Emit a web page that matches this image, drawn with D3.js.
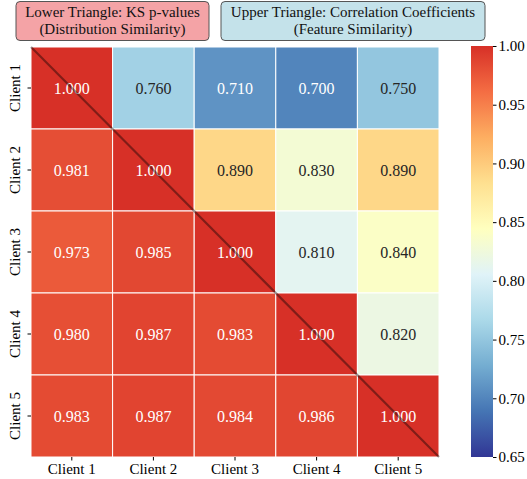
<!DOCTYPE html>
<html>
<head>
<meta charset="utf-8">
<script src="https://cdn.jsdelivr.net/npm/d3@7"></script>
<style>
  html, body { margin: 0; padding: 0; background: #fff; }
  svg { display: block; }
  svg text { font-family: "Liberation Serif", "Times New Roman", serif !important; }
</style>
</head>
<body>
<svg id="chart" width="527" height="479"></svg>
<script>
// Client labels
const clients = ["Client 1", "Client 2", "Client 3", "Client 4", "Client 5"];

// Matrix rows: lower triangle = KS p-values, upper triangle = correlation coefficients
const row1 = [1.000, 0.760, 0.710, 0.700, 0.750];
const row2 = [0.981, 1.000, 0.890, 0.830, 0.890];
const row3 = [0.973, 0.985, 1.000, 0.810, 0.840];
const row4 = [0.980, 0.987, 0.983, 1.000, 0.820];
const row5 = [0.983, 0.987, 0.984, 0.986, 1.000];
const matrix = [row1, row2, row3, row4, row5];

const colorTicks = [0.65, 0.70, 0.75, 0.80, 0.85, 0.90, 0.95, 1.00];
const vmin = 0.65, vmax = 1.0;

// Blue -> yellow -> red palette
const palette = ["#313695", "#4575b4", "#74add1", "#abd9e9", "#e0f3f8",
                 "#ffffbf", "#fee090", "#fdae61", "#f46d43", "#d73027"];
const paletteScale = d3.scaleLinear()
  .domain(palette.map((_, i) => i / (palette.length - 1)))
  .range(palette)
  .interpolate(d3.interpolateRgb)
  .clamp(true);
const color = v => paletteScale((v - vmin) / (vmax - vmin));

// Pick annotation colour from the cell's luminance
function textColor(fill) {
  const c = d3.rgb(fill);
  const lin = u => { u /= 255; return u <= 0.03928 ? u / 12.92 : Math.pow((u + 0.055) / 1.055, 2.4); };
  const L = 0.2126 * lin(c.r) + 0.7152 * lin(c.g) + 0.0722 * lin(c.b);
  return L > 0.408 ? "#262626" : "#ffffff";
}

const svg = d3.select("#chart");

const hm = { left: 31, top: 47, right: 439, bottom: 457 };
const x = d3.scaleBand().domain(clients).range([hm.left, hm.right]);
const y = d3.scaleBand().domain(clients).range([hm.top, hm.bottom]);

const cells = [];
matrix.forEach((row, i) => row.forEach((v, j) => cells.push({ i, j, v })));

// Cells
svg.append("g").selectAll("rect").data(cells).join("rect")
  .attr("x", d => x(clients[d.j]))
  .attr("y", d => y(clients[d.i]))
  .attr("width", x.bandwidth())
  .attr("height", y.bandwidth())
  .attr("fill", d => color(d.v))
  .attr("stroke", "#ffffff")
  .attr("stroke-width", 1);

// Cell annotations
svg.append("g").selectAll("text").data(cells).join("text")
  .attr("x", d => x(clients[d.j]) + x.bandwidth() / 2)
  .attr("y", d => y(clients[d.i]) + y.bandwidth() / 2)
  .attr("text-anchor", "middle")
  .attr("dominant-baseline", "central")
  .attr("font-size", 16)
  .attr("fill", d => textColor(color(d.v)))
  .text(d => d.v.toFixed(3));

// Diagonal separator
svg.append("line")
  .attr("x1", hm.left).attr("y1", hm.top)
  .attr("x2", hm.right).attr("y2", hm.bottom)
  .attr("stroke", "#000")
  .attr("stroke-opacity", 0.4)
  .attr("stroke-width", 2.2);

// Axes
const xAxis = svg.append("g")
  .attr("transform", `translate(0,${hm.bottom})`)
  .call(d3.axisBottom(x).tickSize(3.5).tickPadding(3));
xAxis.select(".domain").remove();
xAxis.selectAll("text").attr("font-size", 15).attr("fill", "#000");
xAxis.selectAll("line").attr("stroke", "#000");

const yAxis = svg.append("g")
  .attr("transform", `translate(${hm.left},0)`)
  .call(d3.axisLeft(y).tickSize(3.5).tickPadding(3));
yAxis.select(".domain").remove();
yAxis.selectAll("line").attr("stroke", "#000");
yAxis.selectAll("text")
  .attr("font-size", 15).attr("fill", "#000")
  .attr("text-anchor", "middle")
  .attr("dy", null)
  .attr("x", null)
  .attr("transform", "translate(-16,0) rotate(-90)")
  .attr("dominant-baseline", "central");

// Colorbar
const cb = { left: 471, right: 493, top: 46, bottom: 457 };
const cy = d3.scaleLinear().domain([vmin, vmax]).range([cb.bottom, cb.top]);
const defs = svg.append("defs");
const grad = defs.append("linearGradient").attr("id", "cbgrad")
  .attr("x1", 0).attr("y1", 1).attr("x2", 0).attr("y2", 0);
grad.selectAll("stop").data(palette).join("stop")
  .attr("offset", (_, i) => i / (palette.length - 1))
  .attr("stop-color", d => d);
svg.append("rect")
  .attr("x", cb.left).attr("y", cb.top)
  .attr("width", cb.right - cb.left).attr("height", cb.bottom - cb.top)
  .attr("fill", "url(#cbgrad)");
const cAxis = svg.append("g")
  .attr("transform", `translate(${cb.right},0)`)
  .call(d3.axisRight(cy).tickValues(colorTicks).tickFormat(d3.format(".2f")).tickSize(3.5).tickPadding(2));
cAxis.select(".domain").remove();
cAxis.selectAll("line").attr("stroke", "#000");
cAxis.selectAll("text").attr("font-size", 15).attr("fill", "#000");

// Legend boxes
const boxes = [
  { x: 16, w: 193, fill: "#f4a3a6", lines: ["Lower Triangle: KS p-values", "(Distribution Similarity)"] },
  { x: 221, w: 264, fill: "#c4e2ea", lines: ["Upper Triangle: Correlation Coefficients", "(Feature Similarity)"] }
];
const bg = svg.append("g").selectAll("g").data(boxes).join("g");
bg.append("rect")
  .attr("x", d => d.x).attr("y", 1.5)
  .attr("width", d => d.w).attr("height", 39)
  .attr("rx", 4).attr("ry", 4)
  .attr("fill", d => d.fill)
  .attr("stroke", "#555").attr("stroke-width", 1);
bg.each(function(d) {
  const t = d3.select(this).append("text")
    .attr("text-anchor", "middle")
    .attr("font-size", 15)
    .attr("fill", "#111");
  d.lines.forEach((line, k) => {
    t.append("tspan")
      .attr("x", d.x + d.w / 2)
      .attr("y", 17 + k * 17)
      .text(line);
  });
});
</script>
</body>
</html>
